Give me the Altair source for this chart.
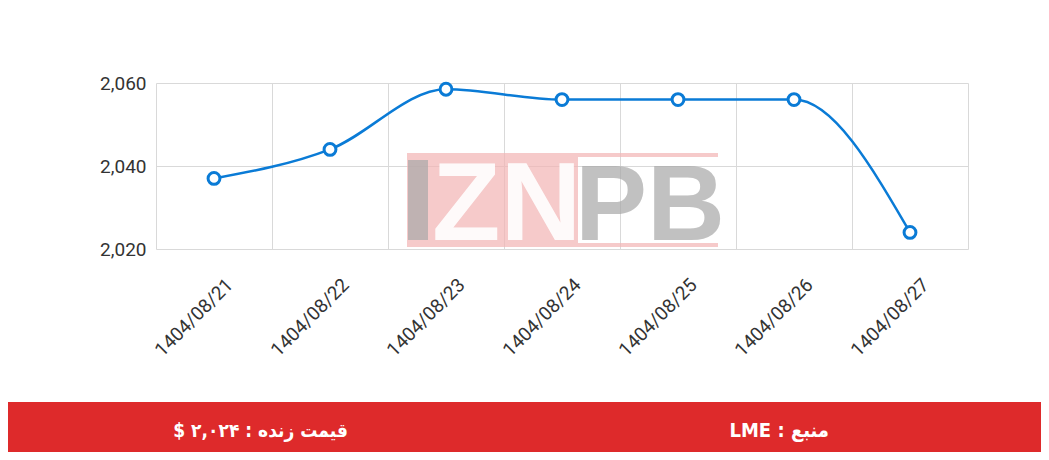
import altair as alt
import pandas as pd

dates = ["1404/08/21", "1404/08/22", "1404/08/23", "1404/08/24",
         "1404/08/25", "1404/08/26", "1404/08/27"]
prices = [2037, 2044, 2058.5, 2056, 2056, 2056, 2024]
y_ticks = [2020, 2040, 2060]
source_label = "LME : منبع"
price_label = "$ ۲,۰۲۴ : قیمت زنده"

BLUE = "#0a7bd6"
RED = "#de2a2b"

df = pd.DataFrame({"date": dates, "price": prices})
one = alt.Data(values=[{"k": 1}])

x_enc = alt.X(
    "date:N", sort=dates, bandPosition=0.5,
    scale=alt.Scale(type="band", paddingInner=0, paddingOuter=0),
    axis=alt.Axis(title=None, labelAngle=315, tickBand="extent", grid=True,
                  ticks=False, tickSize=0, domain=False, labelFontSize=19,
                  labelFont="Roboto", labelColor="#333333", labelPadding=26,
                  labelOffset=9, gridColor="#d9d9d9", labelAlign="right",
                  labelBaseline="top"),
)
y_enc = alt.Y(
    "price:Q",
    scale=alt.Scale(domain=[2020, 2060], nice=False, zero=False),
    axis=alt.Axis(title=None, values=y_ticks, format=",.0f", grid=True, ticks=False,
                  tickSize=0, domain=False, labelFontSize=19, labelFont="Roboto",
                  labelColor="#333333", labelPadding=10, gridColor="#d9d9d9"),
)

base = alt.Chart(df)

# footer band
footer = alt.Chart(one).mark_rect(color=RED).encode(
    x=alt.value(-148), x2=alt.value(885), y=alt.value(319), y2=alt.value(372)
)
footer_txt1 = alt.Chart(one).mark_text(
    text=source_label, color="white", fontSize=20, fontWeight="bold",
    font="DejaVu Sans Condensed", align="right", baseline="middle"
).encode(x=alt.value(673), y=alt.value(348))
footer_txt2 = alt.Chart(one).mark_text(
    text=price_label, color="white", fontSize=19, fontWeight="bold",
    font="DejaVu Sans Condensed", align="right", baseline="middle"
).encode(x=alt.value(192), y=alt.value(348))

# watermark
WM_OP = 0.7
PINK = "#f2b4b4"
GRAY = "#a8a8a8"
wm_pink = alt.Chart(one).mark_rect(color=PINK, opacity=WM_OP).encode(
    x=alt.value(251), x2=alt.value(422), y=alt.value(70), y2=alt.value(164)
)
wm_top = alt.Chart(one).mark_rect(color=PINK, opacity=WM_OP).encode(
    x=alt.value(422), x2=alt.value(562), y=alt.value(70), y2=alt.value(74)
)
wm_bot = alt.Chart(one).mark_rect(color=PINK, opacity=WM_OP).encode(
    x=alt.value(422), x2=alt.value(562), y=alt.value(160), y2=alt.value(164)
)
wm_i = alt.Chart(one).mark_rect(color=GRAY, opacity=WM_OP).encode(
    x=alt.value(252), x2=alt.value(272), y=alt.value(77), y2=alt.value(157)
)
wm_zn = alt.Chart(one).mark_text(
    text="ZN", color="white", fontSize=112, fontWeight="bold",
    font="Liberation Sans", align="left", baseline="alphabetic", opacity=0.92
).encode(x=alt.value(276), y=alt.value(157))
wm_pb = alt.Chart(one).mark_text(
    text="PB", color=GRAY, fontSize=108, fontWeight="bold",
    font="Liberation Sans", align="left", baseline="alphabetic", opacity=WM_OP
).encode(x=alt.value(419), y=alt.value(157))

line = base.mark_line(interpolate="monotone", color=BLUE, strokeWidth=2.5).encode(
    x=x_enc, y=y_enc
)
pts = base.mark_point(shape="circle", fill="white", fillOpacity=1, stroke=BLUE,
                      strokeWidth=3, size=140, opacity=1).encode(x=x_enc, y=y_enc)

chart = alt.layer(
    footer, wm_pink, wm_top, wm_bot, wm_i, wm_zn, wm_pb, line, pts,
    footer_txt1, footer_txt2
).properties(
    width=812, height=166,
    autosize=alt.AutoSizeParams(type="none"),
    padding={"left": 148, "top": 75, "right": 73, "bottom": 203},
    background="white",
).configure_view(stroke="transparent")

chart.save("out.html", embed_options={"renderer": "svg", "actions": False})
